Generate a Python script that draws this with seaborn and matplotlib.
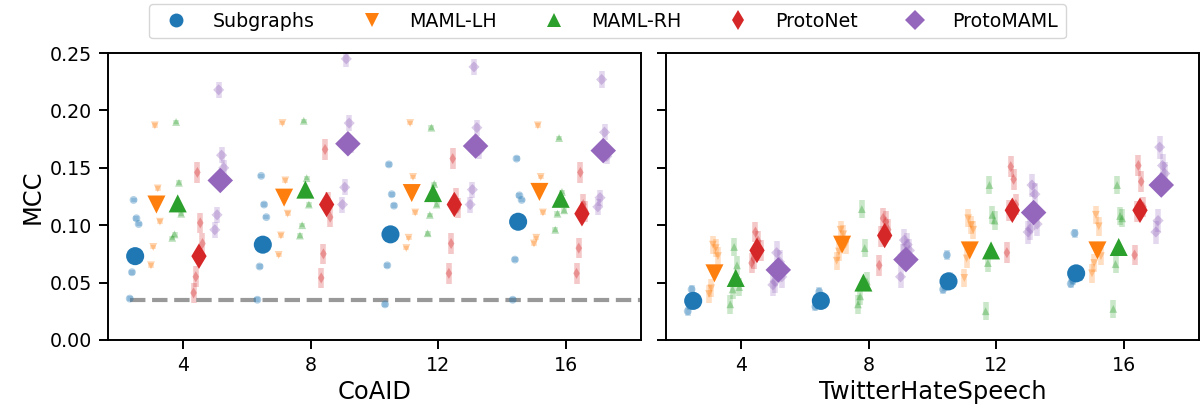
import numpy as np
import pandas as pd
import matplotlib
matplotlib.use("Agg")
import matplotlib.pyplot as plt
import seaborn as sns
from matplotlib.lines import Line2D

# shots per class and the methods compared
shots = [4, 8, 12, 16]
methods = ["Subgraphs", "MAML-LH", "MAML-RH", "ProtoNet", "ProtoMAML"]
markers = {"Subgraphs": "o", "MAML-LH": "v", "MAML-RH": "^", "ProtoNet": "d", "ProtoMAML": "D"}
colors = dict(zip(methods, sns.color_palette("tab10", 5)))

# CoAID - mean MCC per shot
coaid_mean = {
    "Subgraphs": [0.073, 0.083, 0.092, 0.103],
    "MAML-LH": [0.118, 0.124, 0.128, 0.129],
    "MAML-RH": [0.119, 0.131, 0.128, 0.123],
    "ProtoNet": [0.073, 0.118, 0.118, 0.110],
    "ProtoMAML": [0.139, 0.171, 0.169, 0.165],
}
# CoAID - individual runs (rows = shots)
coaid_subgraphs = [[0.122, 0.106, 0.101, 0.059, 0.036], [0.143, 0.118, 0.107, 0.064, 0.035],
                   [0.153, 0.127, 0.117, 0.065, 0.031], [0.158, 0.126, 0.122, 0.070, 0.035]]
coaid_maml_lh = [[0.187, 0.132, 0.103, 0.081, 0.065], [0.189, 0.139, 0.110, 0.091, 0.074],
                 [0.189, 0.142, 0.111, 0.089, 0.080], [0.187, 0.142, 0.111, 0.089, 0.084]]
coaid_maml_rh = [[0.190, 0.137, 0.110, 0.092, 0.089], [0.191, 0.141, 0.118, 0.100, 0.091],
                 [0.185, 0.136, 0.118, 0.109, 0.093], [0.176, 0.129, 0.113, 0.110, 0.096]]
coaid_protonet = [[0.146, 0.102, 0.084, 0.055, 0.041], [0.166, 0.120, 0.107, 0.075, 0.054],
                  [0.158, 0.123, 0.115, 0.084, 0.058], [0.146, 0.118, 0.112, 0.080, 0.058]]
coaid_protomaml = [[0.218, 0.161, 0.150, 0.109, 0.096], [0.245, 0.189, 0.170, 0.133, 0.118],
                   [0.238, 0.185, 0.165, 0.131, 0.118], [0.227, 0.181, 0.160, 0.124, 0.116]]
coaid_err = [0.002, 0.002, 0.002, 0.009, 0.007]

# TwitterHateSpeech - mean MCC per shot
twitter_mean = {
    "Subgraphs": [0.034, 0.034, 0.051, 0.058],
    "MAML-LH": [0.058, 0.083, 0.078, 0.078],
    "MAML-RH": [0.054, 0.050, 0.078, 0.081],
    "ProtoNet": [0.078, 0.091, 0.113, 0.113],
    "ProtoMAML": [0.061, 0.070, 0.111, 0.135],
}
twitter_subgraphs = [[0.044, 0.038, 0.033, 0.030, 0.025], [0.042, 0.038, 0.034, 0.031, 0.029],
                     [0.074, 0.055, 0.051, 0.047, 0.044], [0.093, 0.060, 0.055, 0.052, 0.049]]
twitter_maml_lh = [[0.083, 0.080, 0.073, 0.045, 0.040], [0.096, 0.092, 0.083, 0.077, 0.069],
                   [0.106, 0.100, 0.096, 0.071, 0.054], [0.109, 0.099, 0.073, 0.067, 0.058]]
twitter_maml_rh = [[0.081, 0.065, 0.046, 0.044, 0.031], [0.114, 0.080, 0.051, 0.038, 0.031],
                   [0.135, 0.109, 0.104, 0.067, 0.025], [0.135, 0.108, 0.106, 0.066, 0.027]]
twitter_protonet = [[0.094, 0.086, 0.078, 0.071, 0.067], [0.106, 0.103, 0.096, 0.090, 0.065],
                    [0.151, 0.140, 0.118, 0.113, 0.076], [0.152, 0.138, 0.116, 0.112, 0.074]]
twitter_protomaml = [[0.076, 0.068, 0.055, 0.051, 0.048], [0.087, 0.083, 0.078, 0.074, 0.055],
                     [0.135, 0.127, 0.101, 0.097, 0.094], [0.168, 0.152, 0.145, 0.104, 0.094]]
twitter_err = [0.004, 0.008, 0.008, 0.009, 0.010]

baseline = 0.035  # dashed reference line (CoAID)

# dodge each method inside a shot group, small spread for runs
offsets = -1.5 + np.arange(len(methods)) * 2 / 3
jitter = [-0.05, 0.04, 0.11, -0.10, -0.17]


def build_frames(mean, runs, err):
    rows, mrows = [], []
    for i, m in enumerate(methods):
        for j, k in enumerate(shots):
            mrows.append({"method": m, "x": k + offsets[i], "mcc": mean[m][j]})
            for r, v in enumerate(runs[i][j]):
                rows.append({"method": m, "x": k + offsets[i] + jitter[r], "mcc": v, "err": err[i]})
    return pd.DataFrame(rows), pd.DataFrame(mrows)


datasets = [
    ("CoAID", coaid_mean, [coaid_subgraphs, coaid_maml_lh, coaid_maml_rh, coaid_protonet, coaid_protomaml], coaid_err),
    ("TwitterHateSpeech", twitter_mean,
     [twitter_subgraphs, twitter_maml_lh, twitter_maml_rh, twitter_protonet, twitter_protomaml], twitter_err),
]

fig, axes = plt.subplots(1, 2, figsize=(12.03, 4.15), dpi=100, sharey=True)
fig.subplots_adjust(left=0.0898, right=0.9967, bottom=0.181, top=0.872, wspace=0.047)

for ax, (name, mean, runs, err) in zip(axes, datasets):
    df_runs, df_mean = build_frames(mean, runs, err)

    # error bars of the single runs
    for m in methods:
        sub = df_runs[df_runs["method"] == m]
        ax.errorbar(sub["x"], sub["mcc"], yerr=sub["err"], fmt="none",
                    ecolor=colors[m], elinewidth=4, alpha=0.25, zorder=1)

    sns.scatterplot(data=df_runs, x="x", y="mcc", hue="method", style="method",
                    palette=colors, markers=markers, s=32, alpha=0.35,
                    linewidth=0, legend=False, ax=ax, zorder=2)
    sns.scatterplot(data=df_mean, x="x", y="mcc", hue="method", style="method",
                    palette=colors, markers=markers, s=169, linewidth=0,
                    legend=False, ax=ax, zorder=3)

    if name == "CoAID":
        ax.hlines(baseline, shots[0] - 1.65, 19, colors="gray", linestyles="--",
                  linewidth=3, alpha=0.8, zorder=1)

    ax.set_xlim(1.65, 18.35)
    ax.set_ylim(0, 0.25)
    ax.set_xticks(shots)
    ax.set_xticklabels([str(k) for k in shots])
    ax.set_xlabel(name, fontsize=17.4)
    ax.set_ylabel("")
    ax.tick_params(labelsize=13.7, length=6.5, width=1.4, pad=5)
    for sp in ax.spines.values():
        sp.set_linewidth(1.4)

axes[0].set_yticks([0.0, 0.05, 0.10, 0.15, 0.20, 0.25])
axes[0].set_yticklabels(["0.00", "0.05", "0.10", "0.15", "0.20", "0.25"])
axes[0].set_ylabel("MCC", fontsize=17.4)

handles = [Line2D([], [], linestyle="none", marker=markers[m], color=colors[m],
                  markersize=10, markeredgewidth=0) for m in methods]
fig.legend(handles, methods, loc="upper center", bbox_to_anchor=(0.505, 0.99),
           ncol=5, fontsize=13.7, borderaxespad=0, handletextpad=0.95, columnspacing=2.0)

fig.savefig("out.png", dpi=100)
